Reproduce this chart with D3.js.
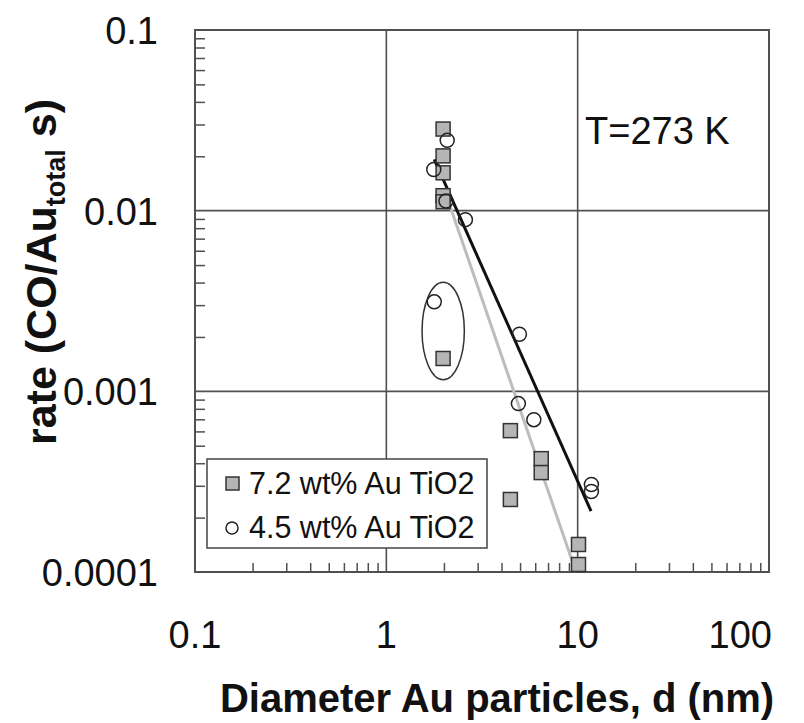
<!DOCTYPE html>
<html>
<head>
<meta charset="utf-8">
<script src="https://cdn.jsdelivr.net/npm/d3@7"></script>
<style>
  html, body { margin: 0; padding: 0; background: #fff; }
  svg { display: block; font-family: "Liberation Sans", Arial, Helvetica, sans-serif; }
</style>
</head>
<body>
<svg id="chart" width="804" height="723"></svg>
<script>
// Particle diameter d (nm) and CO oxidation rate (CO/Au_total s), T = 273 K
const auHighD    = [1.98, 1.98, 1.98, 1.98, 1.98, 1.98, 4.45, 4.45, 6.45, 6.45, 10.1, 10.1];
const auHighRate = [0.0283, 0.0201, 0.0162, 0.0121, 0.0112, 0.00152, 0.000606, 0.000252, 0.000424, 0.000355, 0.000142, 0.000110];

const auLowD     = [2.08, 1.77, 2.05, 2.59, 1.78, 4.96, 4.9, 5.9, 11.8, 11.8];
const auLowRate  = [0.0245, 0.0169, 0.0113, 0.00892, 0.00313, 0.00207, 0.000855, 0.000697, 0.000305, 0.000279];

// Power-law fit lines (end points)
const fitHighD    = [2.03, 9.8];
const fitHighRate = [0.0127, 0.0001];
const fitLowD     = [1.78, 11.75];
const fitLowRate  = [0.0192, 0.000217];

// Outlier group enclosed by the ellipse (d range, rate range)
const outlierD    = [1.537, 2.557];
const outlierRate = [0.00116, 0.00401];

const xTickValues = [0.1, 1, 10, 100];
const xTickLabels = ["0.1", "1", "10", "100"];
const yTickValues = [0.1, 0.01, 0.001, 0.0001];
const yTickLabels = ["0.1", "0.01", "0.001", "0.0001"];

const legendLabels = ["7.2 wt% Au TiO2", "4.5 wt% Au TiO2"];

const svg = d3.select("#chart");
const plot = { left: 195, top: 30, right: 769, bottom: 572 };

const x = d3.scaleLog().domain([0.1, 100]).range([plot.left, plot.right]);
const y = d3.scaleLog().domain([0.0001, 0.1]).range([plot.bottom, plot.top]);

const gridColor = "#505050";

// Minor ticks (inside, left and bottom)
const minorX = [];
for (let dec = 0.1; dec < 100; dec *= 10) for (let k = 2; k <= 9; k++) minorX.push(dec * k);
const minorY = [];
for (let dec = 0.0001; dec < 0.1; dec *= 10) for (let k = 2; k <= 9; k++) minorY.push(dec * k);

const axisX = d3.axisBottom(x).tickValues(minorX).tickSize(-9).tickFormat("");
svg.append("g").attr("transform", `translate(0,${plot.bottom})`).call(axisX)
  .call(g => g.select(".domain").remove())
  .call(g => g.selectAll("line").attr("stroke", gridColor).attr("stroke-width", 1.5));

const axisY = d3.axisLeft(y).tickValues(minorY).tickSize(-10).tickFormat("");
svg.append("g").attr("transform", `translate(${plot.left},0)`).call(axisY)
  .call(g => g.select(".domain").remove())
  .call(g => g.selectAll("line").attr("stroke", gridColor).attr("stroke-width", 1.5));

// Major grid lines
svg.append("g").selectAll("line").data(xTickValues.slice(1, -1)).join("line")
  .attr("x1", d => x(d)).attr("x2", d => x(d))
  .attr("y1", plot.top).attr("y2", plot.bottom)
  .attr("stroke", gridColor).attr("stroke-width", 1.6);
svg.append("g").selectAll("line").data(yTickValues.slice(1, -1)).join("line")
  .attr("x1", plot.left).attr("x2", plot.right)
  .attr("y1", d => y(d)).attr("y2", d => y(d))
  .attr("stroke", gridColor).attr("stroke-width", 1.6);

// Frame
svg.append("rect")
  .attr("x", plot.left).attr("y", plot.top)
  .attr("width", plot.right - plot.left).attr("height", plot.bottom - plot.top)
  .attr("fill", "none").attr("stroke", gridColor).attr("stroke-width", 2);

// Tick labels
svg.append("g").selectAll("text").data(xTickValues).join("text")
  .attr("x", (d, i) => i === xTickValues.length - 1 ? x(d) + 3 : x(d))
  .attr("y", 648)
  .attr("text-anchor", (d, i) => i === xTickValues.length - 1 ? "end" : "middle")
  .attr("font-size", 38).attr("fill", "#111")
  .text((d, i) => xTickLabels[i]);

svg.append("g").selectAll("text").data(yTickValues).join("text")
  .attr("x", 158).attr("y", d => y(d) + 14)
  .attr("text-anchor", "end")
  .attr("font-size", 38).attr("fill", "#111")
  .text((d, i) => yTickLabels[i]);

// Axis titles
svg.append("text")
  .attr("x", 497).attr("y", 712)
  .attr("text-anchor", "middle")
  .attr("font-size", 40).attr("font-weight", "bold").attr("fill", "#111")
  .text("Diameter Au particles, d (nm)");

const yTitle = svg.append("text")
  .attr("transform", "translate(56,272) rotate(-90)")
  .attr("text-anchor", "middle")
  .attr("font-size", 43).attr("font-weight", "bold").attr("fill", "#111");
yTitle.append("tspan").text("rate (CO/Au");
yTitle.append("tspan").attr("font-size", 27).attr("dy", 9).text("total");
yTitle.append("tspan").attr("dy", -9).text(" s)");

// Temperature annotation
svg.append("text")
  .attr("x", 585).attr("y", 144)
  .attr("font-size", 38).attr("fill", "#111")
  .text("T=273 K");

// Fit lines
const line = d3.line().x(d => x(d[0])).y(d => y(d[1]));
svg.append("path")
  .attr("d", line(fitHighD.map((d, i) => [d, fitHighRate[i]])))
  .attr("fill", "none").attr("stroke", "#bdbdbd").attr("stroke-width", 3);
svg.append("path")
  .attr("d", line(fitLowD.map((d, i) => [d, fitLowRate[i]])))
  .attr("fill", "none").attr("stroke", "#111").attr("stroke-width", 3);

// Ellipse around the outlier pair
const ex0 = x(outlierD[0]), ex1 = x(outlierD[1]);
const ey0 = y(outlierRate[1]), ey1 = y(outlierRate[0]);
svg.append("ellipse")
  .attr("cx", (ex0 + ex1) / 2).attr("cy", (ey0 + ey1) / 2)
  .attr("rx", (ex1 - ex0) / 2).attr("ry", (ey1 - ey0) / 2)
  .attr("fill", "none").attr("stroke", "#333").attr("stroke-width", 1.5);

// Markers
const sq = 14;
svg.append("g").selectAll("rect").data(auHighD.map((d, i) => [d, auHighRate[i]])).join("rect")
  .attr("x", d => x(d[0]) - sq / 2).attr("y", d => y(d[1]) - sq / 2)
  .attr("width", sq).attr("height", sq)
  .attr("fill", "#b5b5b5").attr("stroke", "#333").attr("stroke-width", 1.5);

svg.append("g").selectAll("circle").data(auLowD.map((d, i) => [d, auLowRate[i]])).join("circle")
  .attr("cx", d => x(d[0])).attr("cy", d => y(d[1])).attr("r", 7)
  .attr("fill", "none").attr("stroke", "#222").attr("stroke-width", 1.5);

// Legend
const lg = svg.append("g");
lg.append("rect").attr("x", 207).attr("y", 459).attr("width", 280).attr("height", 89)
  .attr("fill", "#fff").attr("stroke", "#444").attr("stroke-width", 1.5);
lg.append("rect").attr("x", 226).attr("y", 477).attr("width", 13).attr("height", 13)
  .attr("fill", "#b5b5b5").attr("stroke", "#333").attr("stroke-width", 1.5);
lg.append("circle").attr("cx", 232).attr("cy", 528).attr("r", 6)
  .attr("fill", "#fff").attr("stroke", "#222").attr("stroke-width", 1.5);
lg.selectAll("text").data(legendLabels).join("text")
  .attr("x", 249).attr("y", (d, i) => 494 + i * 44)
  .attr("font-size", 30.5).attr("fill", "#111")
  .text(d => d);
</script>
</body>
</html>
